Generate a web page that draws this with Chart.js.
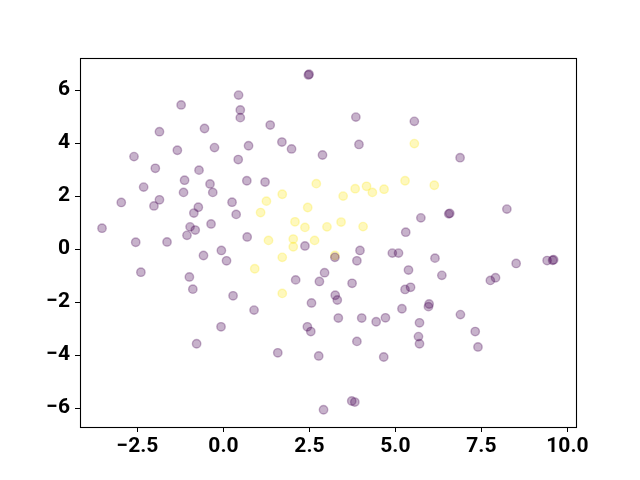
<!DOCTYPE html>
<html>
<head>
<meta charset="utf-8">
<script src="https://cdn.jsdelivr.net/npm/chart.js@4"></script>
<style>
  html, body { margin: 0; padding: 0; background: #fff; }
  canvas { display: block; }
</style>
</head>
<body>
<canvas id="scatterChart" width="640" height="480"></canvas>
<script>
// cluster 0 (purple)
var purpleX = [2.47, 2.49, 0.44, 0.49, 0.49, -1.23, 3.85, 5.55, -1.86, -0.55, 1.36, 0.73, 1.70, 1.98, 3.94,
  -1.34, -0.26, -2.60, 0.43, 6.88, 2.88, -1.98, -0.71, -1.13, -0.39, 0.68, 1.21, -2.32, -1.16, -0.31,
  -2.97, -1.86, -2.02, 0.25, -0.73, -0.86, 0.37, 5.74, 6.55, 6.58, 8.24, -3.53, -0.97, -0.82, -1.06,
  -0.36, 0.69, 5.30, -2.55, -1.64, 2.37, -0.58, -0.06, 0.09, 3.24, 3.97, 3.88, 4.91, 5.09, 6.15,
  -2.40, 5.38, 2.94, 2.10, 2.79, 3.74, 6.35, -0.99, -0.89, 0.28, 3.25, 3.31, 2.56, 5.28, 5.44,
  7.76, 7.91, 8.51, 9.41, 9.57, 9.60, 5.98, 5.96, 5.19, 0.89, -0.07, -0.78, 3.34, 4.02, 4.44,
  4.71, 2.44, 2.54, 3.88, 1.58, 2.77, 4.66, 3.73, 3.82, 2.91, 6.89, 5.70, 7.32, 5.67, 5.70, 7.40];
var purpleY = [6.57, 6.60, 5.81, 5.25, 4.96, 5.44, 4.98, 4.82, 4.43, 4.55, 4.68, 3.90, 4.04, 3.78, 3.95,
  3.73, 3.83, 3.49, 3.38, 3.45, 3.55, 3.05, 2.98, 2.60, 2.46, 2.58, 2.53, 2.34, 2.14, 2.14,
  1.76, 1.86, 1.63, 1.77, 1.58, 1.36, 1.31, 1.18, 1.33, 1.35, 1.51, 0.79, 0.84, 0.72, 0.52,
  0.95, 0.46, 0.64, 0.26, 0.27, 0.12, -0.24, -0.05, -0.44, -0.31, -0.05, -0.44, -0.15, -0.15, -0.34,
  -0.87, -0.79, -0.89, -1.16, -1.22, -1.29, -0.99, -1.05, -1.51, -1.76, -1.74, -1.92, -2.03, -1.52, -1.44,
  -1.18, -1.08, -0.54, -0.43, -0.42, -0.40, -2.07, -2.17, -2.25, -2.30, -2.93, -3.57, -2.60, -2.60, -2.74,
  -2.59, -2.93, -3.11, -3.48, -3.91, -4.03, -4.07, -5.73, -5.77, -6.06, -2.47, -2.78, -3.11, -3.30, -3.57, -3.69];

// cluster 1 (yellow)
var yellowX = [2.70, 5.28, 3.83, 4.16, 4.67, 5.55, 6.13, 1.71, 4.33, 3.48, 1.25, 1.08, 2.45, 2.08, 2.37,
  3.01, 3.42, 4.06, 1.31, 2.03, 2.03, 2.65, 3.24, 1.71, 0.91, 1.71];
var yellowY = [2.47, 2.58, 2.28, 2.37, 2.26, 3.98, 2.41, 2.07, 2.14, 2.00, 1.81, 1.38, 1.57, 1.03, 0.82,
  0.84, 1.02, 0.85, 0.33, 0.38, 0.09, 0.33, -0.24, -0.31, -0.74, -1.67];

var xTicks = [-2.5, 0, 2.5, 5, 7.5, 10];
var yTicks = [-6, -4, -2, 0, 2, 4, 6];

function toPoints(xs, ys) {
  return xs.map(function (x, i) { return { x: x, y: ys[i] }; });
}

function fmt(v, digits) {
  var s = Math.abs(v).toFixed(digits);
  return v < 0 ? '\u2212' + s : s;
}

var tickFont = { family: 'Roboto', size: 21, weight: 'bold', lineHeight: 1 };

var framePlugin = {
  id: 'frame',
  afterDraw: function (chart) {
    var a = chart.chartArea;
    var c = chart.ctx;
    c.save();
    c.strokeStyle = '#000';
    c.lineWidth = 1.1;
    c.strokeRect(Math.round(a.left) + 0.5, Math.round(a.top) + 0.5,
      Math.round(a.right - a.left), Math.round(a.bottom - a.top));
    c.restore();
  }
};

var contexto = document.getElementById('scatterChart');
var grafico = new Chart(contexto, {
  type: 'scatter',
  data: {
    datasets: [{
      data: toPoints(purpleX, purpleY),
      backgroundColor: 'rgba(68, 1, 84, 0.3)',
      borderColor: 'rgba(68, 1, 84, 0.3)',
      borderWidth: 1.4,
      pointRadius: 4.2,
      pointHoverRadius: 4.2
    }, {
      data: toPoints(yellowX, yellowY),
      backgroundColor: 'rgba(253, 231, 37, 0.3)',
      borderColor: 'rgba(253, 231, 37, 0.3)',
      borderWidth: 1.4,
      pointRadius: 4.2,
      pointHoverRadius: 4.2
    }]
  },
  options: {
    responsive: false,
    animation: false,
    layout: { padding: { top: 58, right: 64, left: 0, bottom: 0 } },
    plugins: {
      legend: { display: false },
      tooltip: { enabled: false }
    },
    scales: {
      x: {
        type: 'linear',
        min: -4.17,
        max: 10.25,
        afterBuildTicks: function (s) { s.ticks = xTicks.map(function (v) { return { value: v }; }); },
        afterFit: function (s) { s.height = 53; },
        grid: { drawOnChartArea: false, drawTicks: true, tickLength: 5, tickColor: '#000' },
        border: { display: true, color: '#000', width: 1 },
        ticks: {
          color: '#000',
          font: tickFont,
          padding: 4,
          maxRotation: 0,
          callback: function (v) { return fmt(v, 1); }
        }
      },
      y: {
        type: 'linear',
        min: -6.71,
        max: 7.21,
        afterBuildTicks: function (s) { s.ticks = yTicks.map(function (v) { return { value: v }; }); },
        afterFit: function (s) { s.width = 80; },
        grid: { drawOnChartArea: false, drawTicks: true, tickLength: 5, tickColor: '#000' },
        border: { display: true, color: '#000', width: 1 },
        ticks: {
          color: '#000',
          font: tickFont,
          padding: 5,
          callback: function (v) { return fmt(v, 0); }
        }
      }
    }
  },
  plugins: [framePlugin]
});
</script>
</body>
</html>
